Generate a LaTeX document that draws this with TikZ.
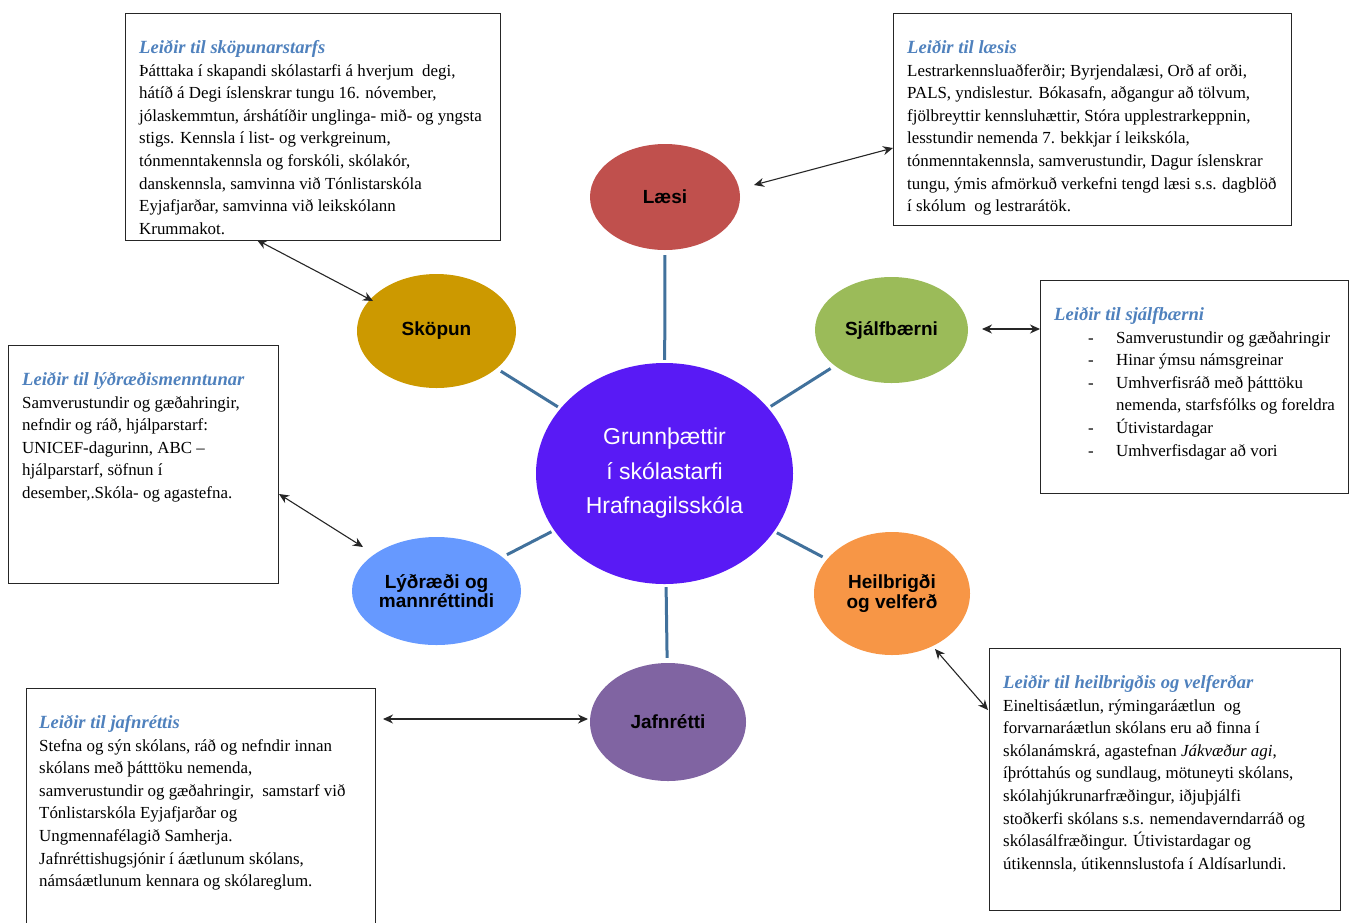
\documentclass[tikz,border=0pt]{standalone}
\usepackage{fontspec}
\setmainfont{Liberation Serif}
\newfontfamily\arialfont{Liberation Sans}
\usetikzlibrary{shapes.geometric,arrows.meta}

\definecolor{titleblue}{RGB}{79,129,189}
\definecolor{spokeblue}{RGB}{65,113,156}
\definecolor{centrecol}{RGB}{89,26,245}
\definecolor{laesicol}{RGB}{192,80,77}
\definecolor{sjalfcol}{RGB}{155,187,89}
\definecolor{heilcol}{RGB}{247,150,70}
\definecolor{jafncol}{RGB}{128,100,162}
\definecolor{lydrcol}{RGB}{102,153,255}
\definecolor{skopcol}{RGB}{204,153,0}

\newcommand{\leid}[1]{{\fontsize{18.6}{22.6}\selectfont\bfseries\itshape\color{titleblue}#1}}

\tikzset{
  satellite/.style={ellipse, inner sep=0pt, align=center, font=\arialfont\bfseries\fontsize{19}{19.5}\selectfont},
  boxframe/.style={draw=black!85, line width=1pt, inner sep=0pt, anchor=north west},
  boxtext/.style={anchor=north west, inner sep=0pt, align=left, font=\fontsize{16.9}{22.6}\selectfont},
  spoke/.style={draw=spokeblue, line width=3pt, shorten <=3pt, shorten >=5pt},
  link/.style={{Stealth[length=10pt,width=9pt]}-{Stealth[length=10pt,width=9pt]}, line width=1.1pt, black!85}
}

\begin{document}
\begin{tikzpicture}[x=1pt,y=1pt,yscale=-1,xscale=1]
            \useasboundingbox (0,0) rectangle (1349,922); % whole page

            % Ellipses
            \node[satellite, fill=centrecol, text=white, minimum width=257pt, minimum height=221pt,
                  font=\arialfont\fontsize{23}{34.5}\selectfont] (centre) at (664.5,473.5) {Grunnþættir\\ í skólastarfi\\ Hrafnagilsskóla}; % Centre
            \node[satellite, fill=laesicol, minimum width=150pt, minimum height=106pt] (laesi) at (665,197) {Læsi}; % Laesi
            \node[satellite, fill=sjalfcol, minimum width=153pt, minimum height=106pt] (sjalf) at (891.5,330) {Sjálfbærni}; % Sjalfbaerni
            \node[satellite, fill=heilcol, minimum width=156pt, minimum height=123pt] (heil) at (892,593.5) {Heilbrigði\\ og velferð}; % Heilbrigdi
            \node[satellite, fill=jafncol, minimum width=156pt, minimum height=118pt] (jafn) at (668,722) {Jafnrétti}; % Jafnretti
            \node[satellite, fill=lydrcol, minimum width=169pt, minimum height=108pt] (lydr) at (436.5,591) {Lýðræði og\\ mannréttindi}; % Lydraedi
            \node[satellite, fill=skopcol, minimum width=159pt, minimum height=114pt] (skopun) at (436.5,331) {Sköpun}; % Skopun

            % Spokes
            \draw[spoke] (centre) -- (laesi);
            \draw[spoke] (centre) -- (sjalf);
            \draw[spoke] (centre) -- (heil);
            \draw[spoke] (centre) -- (jafn);
            \draw[spoke] (centre) -- (lydr);
            \draw[spoke] (centre) -- (skopun);

            % Box Skopun
            \node[boxframe, minimum width=375pt, minimum height=227pt] (skopunbox) at (125,13) {};
            \node[boxtext] (skopuntext) at ([shift={(14,27)}]skopunbox.north west) {\leid{Leiðir til sköpunarstarfs}\\
              Þátttaka í skapandi skólastarfi á hverjum\ \ degi,\\
              hátíð á Degi íslenskrar tungu 16. nóvember,\\
              jólaskemmtun, árshátíðir unglinga- mið- og yngsta\\
              stigs. Kennsla í list- og verkgreinum,\\
              tónmenntakennsla og forskóli, skólakór,\\
              danskennsla, samvinna við Tónlistarskóla\\
              Eyjafjarðar, samvinna við leikskólann\\
              Krummakot.};

            % Box Laesi
            \node[boxframe, minimum width=398pt, minimum height=212pt] (laesibox) at (893,13) {};
            \node[boxtext] (laesitext) at ([shift={(14,27)}]laesibox.north west) {\leid{Leiðir til læsis}\\
              Lestrarkennsluaðferðir; Byrjendalæsi, Orð af orði,\\
              PALS, yndislestur. Bókasafn, aðgangur að tölvum,\\
              fjölbreyttir kennsluhættir, Stóra upplestrarkeppnin,\\
              lesstundir nemenda 7. bekkjar í leikskóla,\\
              tónmenntakennsla, samverustundir, Dagur íslenskrar\\
              tungu, ýmis afmörkuð verkefni tengd læsi s.s. dagblöð\\
              í skólum\ \ og lestrarátök.};

            % Box Sjalfbaerni
            \node[boxframe, minimum width=308pt, minimum height=213pt] (sjalfbox) at (1040,280) {};
            \node[boxtext] (sjalftext) at ([shift={(14,27)}]sjalfbox.north west) {\leid{Leiðir til sjálfbærni}\\
              \hspace*{34pt}\makebox[28pt][l]{-}Samverustundir og gæðahringir\\
              \hspace*{34pt}\makebox[28pt][l]{-}Hinar ýmsu námsgreinar\\
              \hspace*{34pt}\makebox[28pt][l]{-}Umhverfisráð með þátttöku\\
              \hspace*{62pt}nemenda, starfsfólks og foreldra\\
              \hspace*{34pt}\makebox[28pt][l]{-}Útivistardagar\\
              \hspace*{34pt}\makebox[28pt][l]{-}Umhverfisdagar að vori};

            % Box Lydraedi
            \node[boxframe, minimum width=270pt, minimum height=238pt] (lydrbox) at (8,345) {};
            \node[boxtext] (lydrtext) at ([shift={(14,27)}]lydrbox.north west) {\leid{Leiðir til lýðræðismenntunar}\\
              Samverustundir og gæðahringir,\\
              nefndir og ráð, hjálparstarf:\\
              UNICEF-dagurinn, ABC –\\
              hjálparstarf, söfnun í\\
              desember,.Skóla- og agastefna.};

            % Box Jafnretti
            \node[boxframe, minimum width=349pt, minimum height=240pt] (jafnbox) at (26,688) {};
            \node[boxtext] (jafntext) at ([shift={(13,27)}]jafnbox.north west) {\leid{Leiðir til jafnréttis}\\
              Stefna og sýn skólans, ráð og nefndir innan\\
              skólans með þátttöku nemenda,\\
              samverustundir og gæðahringir,\ \ samstarf við\\
              Tónlistarskóla Eyjafjarðar og\\
              Ungmennafélagið Samherja.\\
              Jafnréttishugsjónir í áætlunum skólans,\\
              námsáætlunum kennara og skólareglum.};

            % Box Heilbrigdi
            \node[boxframe, minimum width=351pt, minimum height=262pt] (heilbox) at (989,648) {};
            \node[boxtext] (heiltext) at ([shift={(14,27)}]heilbox.north west) {\leid{Leiðir til heilbrigðis og velferðar}\\
              Eineltisáætlun, rýmingaráætlun\ \ og\\
              forvarnaráætlun skólans\ eru að finna í\\
              skólanámskrá,\ agastefnan \textit{Jákvæður agi},\\
              íþróttahús og sundlaug, mötuneyti skólans,\\
              skólahjúkrunarfræðingur, iðjuþjálfi\\
              stoðkerfi skólans\ s.s. nemendaverndarráð og\\
              skólasálfræðingur. Útivistardagar og\\
              útikennsla, útikennslustofa í Aldísarlundi.};

            % Arrows
            \coordinate (laesiA) at (754,185); \coordinate (laesiB) at (893,148);
            \coordinate (skopA) at (257,240); \coordinate (skopB) at (373,301);
            \coordinate (sjalfA) at (982,329); \coordinate (sjalfB) at (1040,329);
            \coordinate (lydrA) at (279,494); \coordinate (lydrB) at (363,547);
            \coordinate (jafnA) at (383,719); \coordinate (jafnB) at (588,719);
            \coordinate (heilA) at (935,649); \coordinate (heilB) at (988,710);
            \draw[link] (laesiA) -- (laesiB);
            \draw[link] (skopA) -- (skopB);
            \draw[link] (sjalfA) -- (sjalfB);
            \draw[link] (lydrA) -- (lydrB);
            \draw[link] (jafnA) -- (jafnB);
            \draw[link] (heilA) -- (heilB);
        \end{tikzpicture}
\end{document}
